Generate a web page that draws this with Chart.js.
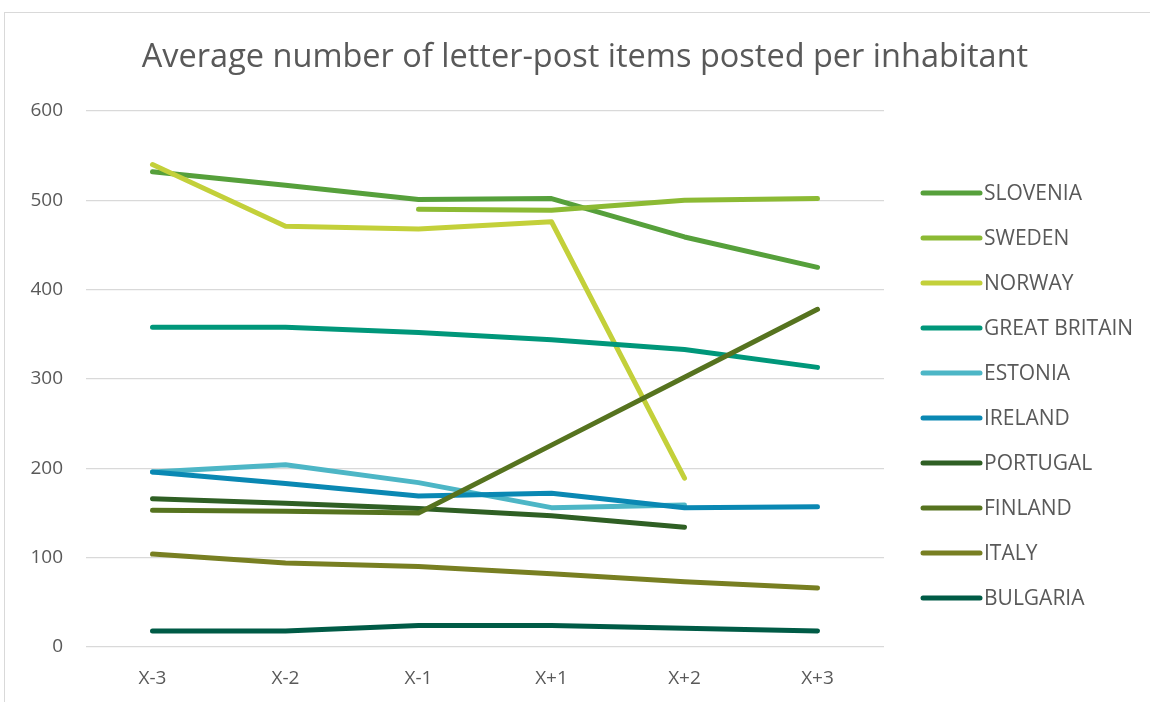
<!DOCTYPE html>
<html>
<head>
<meta charset="utf-8">
<title>Letter-post items per inhabitant</title>
<script src="https://cdn.jsdelivr.net/npm/chart.js@4"></script>
<style>
  html, body { margin: 0; padding: 0; background: #ffffff; }
  #wrap { position: absolute; left: 0; top: 0; width: 1150px; height: 702px; }
</style>
</head>
<body>
<div id="wrap"><canvas id="chart" width="1150" height="702"></canvas></div>
<script>
// Years relative to the reference year X
const categories = ['X-3', 'X-2', 'X-1', 'X+1', 'X+2', 'X+3'];

// Average letter-post items posted per inhabitant
const slovenia     = [532, 517, 501, 502, 459, 425];
const sweden       = [null, null, 490, 489, 500, 502];
const norway       = [540, 471, 468, 476, 189, null];
const greatBritain = [358, 358, 352, 344, 333, 313];
const estonia      = [196, 204, 184, 156, 159, null];
const ireland      = [196, 183, 169, 172, 156, 157];
const portugal     = [166, 161, 155, 147, 134, null];
const finland      = [153, 152, 150, 226, 302, 378];
const italy        = [104, 94, 90, 82, 73, 66];
const bulgaria     = [18, 18, 24, 24, 21, 18];

const seriesNames  = ['SLOVENIA', 'SWEDEN', 'NORWAY', 'GREAT BRITAIN', 'ESTONIA',
                      'IRELAND', 'PORTUGAL', 'FINLAND', 'ITALY', 'BULGARIA'];
const seriesValues = [slovenia, sweden, norway, greatBritain, estonia,
                      ireland, portugal, finland, italy, bulgaria];
const seriesColors = ['#56A03B', '#8CBA34', '#C3D03A', '#00977A', '#4DB6C6',
                      '#0A88B3', '#2F5F24', '#56731F', '#787F22', '#005B46'];

const yTicks = [0, 100, 200, 300, 400, 500, 600];

const chartTitle = 'Average number of letter-post items posted per inhabitant';

const FONT = '"Open Sans", "Liberation Sans", sans-serif';
const TEXT = '#595959';

// later series are painted above earlier ones
const datasets = seriesNames.map((name, i) => ({
  label: name,
  data: seriesValues[i],
  borderColor: seriesColors[i],
  backgroundColor: seriesColors[i],
  borderWidth: 5,
  borderCapStyle: 'round',
  borderJoinStyle: 'round',
  pointRadius: 0,
  pointHoverRadius: 0,
  tension: 0,
  spanGaps: false,
  order: seriesNames.length - i
}));

// outer chart frame and the title, centred on the whole frame
const framePlugin = {
  id: 'frame',
  beforeDraw(chart) {
    const ctx = chart.ctx;
    ctx.save();
    ctx.fillStyle = '#ffffff';
    ctx.fillRect(0, 0, chart.width, chart.height);
    ctx.strokeStyle = '#d9d9d9';
    ctx.lineWidth = 1;
    ctx.strokeRect(4.5, 12.5, chart.width + 20, chart.height + 20);
    ctx.fillStyle = TEXT;
    ctx.font = '32.5px ' + FONT;
    ctx.textAlign = 'center';
    ctx.textBaseline = 'middle';
    ctx.fillText(chartTitle, 585, 58);
    ctx.restore();
  }
};

// vertical legend to the right of the plot
const sideLegend = {
  id: 'sideLegend',
  afterDraw(chart) {
    const ctx = chart.ctx;
    const x0 = chart.chartArea.right + 39;
    const y0 = 193;
    const step = 45;
    ctx.save();
    ctx.font = '21px ' + FONT;
    ctx.textBaseline = 'middle';
    ctx.textAlign = 'left';
    chart.data.datasets.forEach((ds, i) => {
      const y = y0 + i * step;
      ctx.strokeStyle = ds.borderColor;
      ctx.lineWidth = 5;
      ctx.lineCap = 'round';
      ctx.beginPath();
      ctx.moveTo(x0, y);
      ctx.lineTo(x0 + 57, y);
      ctx.stroke();
      ctx.fillStyle = TEXT;
      ctx.fillText(ds.label, x0 + 61, y + 1);
    });
    ctx.restore();
  }
};

new Chart(document.getElementById('chart'), {
  type: 'line',
  data: { labels: categories, datasets },
  plugins: [framePlugin, sideLegend],
  options: {
    responsive: false,
    animation: false,
    events: [],
    layout: { padding: { left: 0, right: 266, top: 111, bottom: 0 } },
    plugins: {
      legend: { display: false },
      tooltip: { enabled: false },
      title: { display: false }
    },
    scales: {
      x: {
        offset: true,
        grid: { display: false, drawTicks: false },
        border: { display: false },
        ticks: { color: TEXT, font: { family: FONT, size: 19 }, padding: 20 },
        afterFit(scale) { scale.height = 55; }
      },
      y: {
        min: 0,
        max: 600,
        afterBuildTicks(scale) { scale.ticks = yTicks.map(v => ({ value: v })); },
        grid: { color: '#d9d9d9', lineWidth: 1.3, drawTicks: false },
        border: { display: false },
        ticks: { color: TEXT, font: { family: FONT, size: 19 }, padding: 23 },
        afterFit(scale) { scale.width = 86; }
      }
    }
  }
});
</script>
</body>
</html>
